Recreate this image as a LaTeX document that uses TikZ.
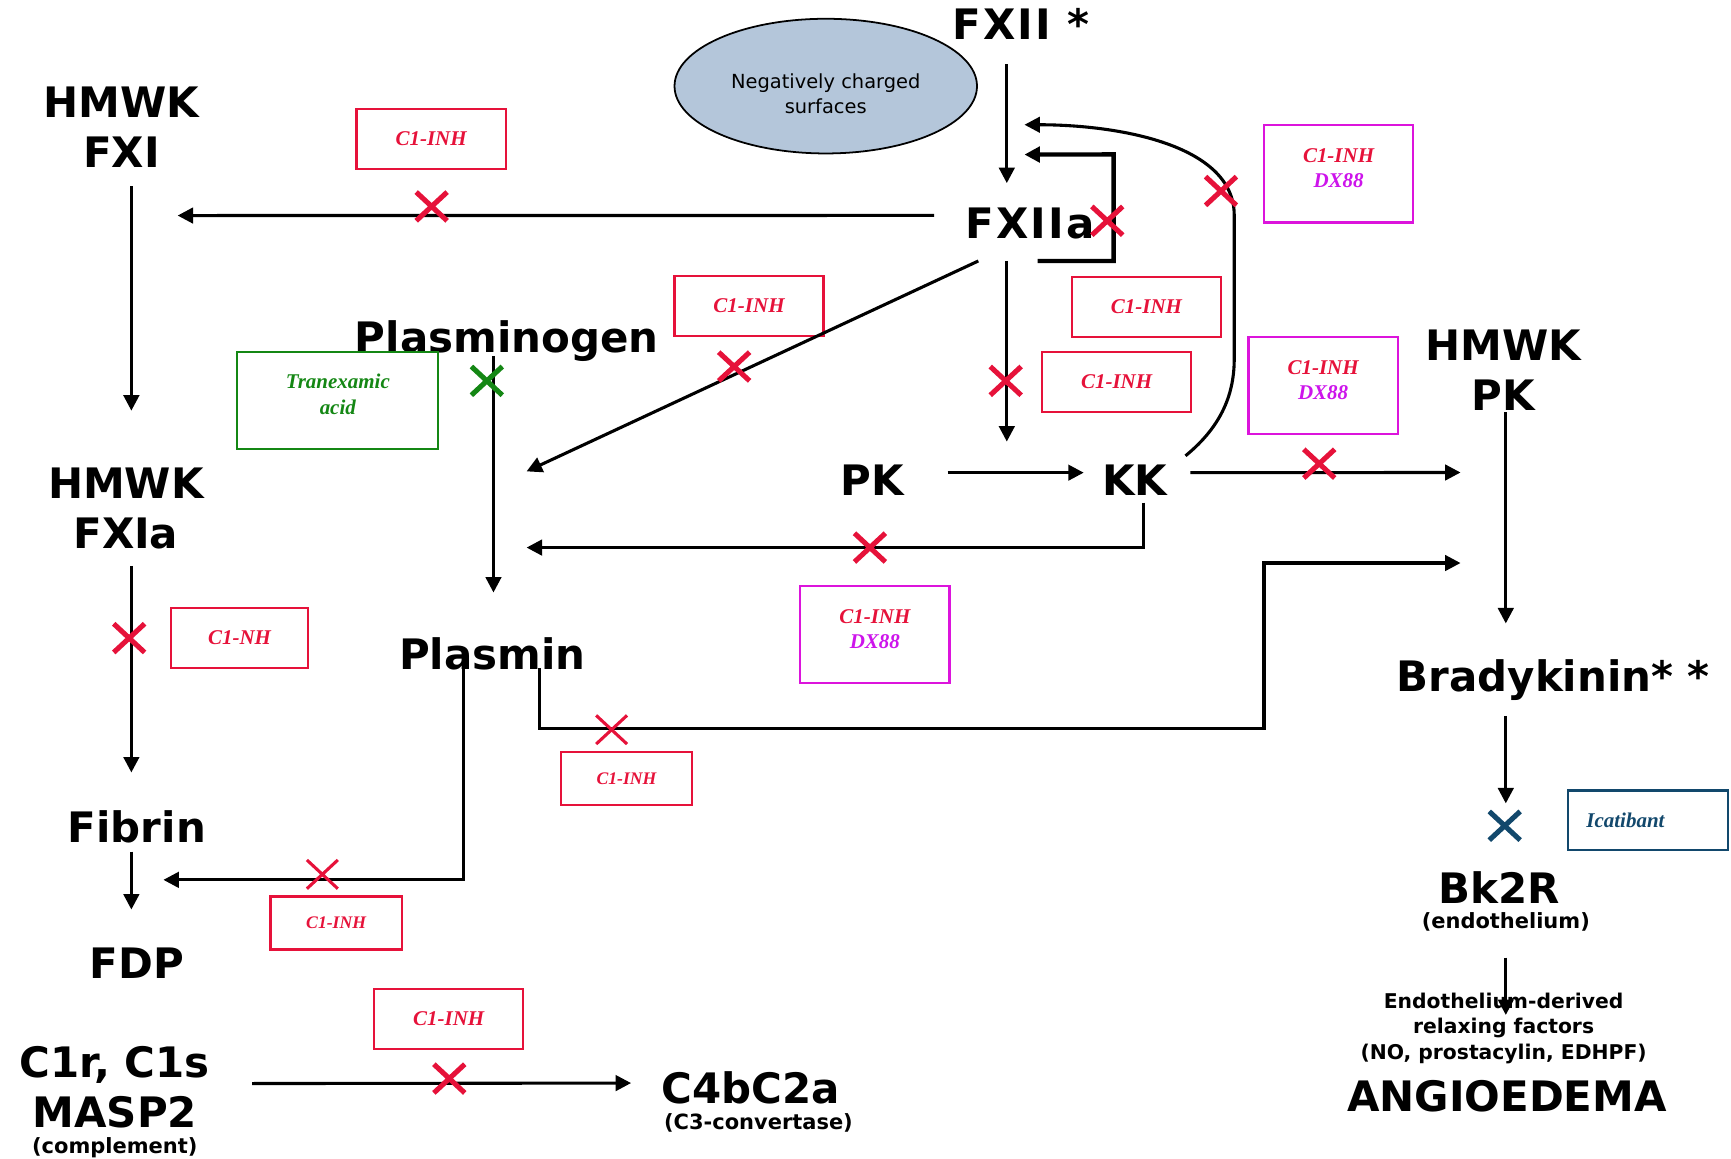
\documentclass[tikz,border=0pt]{standalone}
\usepackage{fontspec}
\newfontfamily\lblfam{DejaVu Sans}
\newfontfamily\drugfam{Liberation Serif}
\usetikzlibrary{arrows.meta,shapes.geometric}

\newcommand\lblfont{\lblfam\bfseries\fontsize{19}{23}\selectfont}
\newcommand\subfont{\lblfam\bfseries\fontsize{9.5}{11}\selectfont}
\newcommand\drugfont{\drugfam\bfseries\itshape\fontsize{9.5}{11.5}\selectfont}

\begin{document}
\begin{tikzpicture}[x=0.5pt, y=-0.5pt, >={Triangle[length=7pt,width=7pt]},
    lbl/.style={font=\lblfont, inner sep=0pt, text depth=0pt, align=center},
    spaced/.style={font=\lblfont\addfontfeature{LetterSpace=5}},
    sub/.style={font=\subfont, inner sep=0pt, text depth=0pt},
    drug/.style={draw=inhred, line width=1pt, text=inhred, font=\drugfont,
      align=center, minimum width=67.5pt, minimum height=27pt},
    dxbox/.style={draw=dxmag, minimum height=44pt, text depth=5pt},
    smalldrug/.style={minimum width=59.5pt, minimum height=24pt,
      font=\drugfam\bfseries\itshape\fontsize{8}{10}\selectfont},
    flow/.style={->, line width=1.4pt},
    stopx/.pic={\draw[pic actions] (-14,-13) -- (14,13) (-14,13) -- (14,-13);},
    redx/.style={draw=inhred, line width=2.3pt},
    thinx/.style={draw=inhred, line width=1.4pt}]
    \definecolor{inhred}{RGB}{230,18,58}
    \definecolor{dxmag}{RGB}{220,20,220}
    \definecolor{dxtext}{RGB}{205,20,235}
    \definecolor{tagreen}{RGB}{20,135,20}
    \definecolor{icablue}{RGB}{18,72,108}
    \definecolor{surfblue}{RGB}{180,198,218}

    \useasboundingbox (0,0) rectangle (1568,1049);

    % contact system
    \node[draw, ellipse, fill=surfblue, line width=0.8pt, minimum width=137pt,
      minimum height=61pt, inner sep=0pt, align=center, text height=24.5pt,
      font=\lblfam\fontsize{8.8}{11}\selectfont] (surfaces) at (748,78)
      {Negatively charged\\surfaces};
    \node[lbl, spaced, anchor=base] (fxii) at (925,36) {FXII *};
    \node[lbl, spaced, anchor=base] (fxiia) at (933,216) {FXIIa};
    \node[lbl, anchor=base] (pk) at (790,449) {PK};
    \node[lbl, anchor=base] (kk) at (1028,449) {KK};
    \node[lbl, anchor=north] (hmwkpk) at (1362,298) {HMWK\\PK};
    \node[lbl, anchor=base] (brady) at (1407,626) {Bradykinin* *};
    \node[lbl, anchor=base] (bk2r) at (1358,818) {Bk2R};
    \node[sub, anchor=base] (endoth) at (1364,841) {(endothelium)};
    \node[anchor=north, inner sep=0pt, align=center,
      font=\lblfam\bfseries\fontsize{9.2}{11.5}\selectfont] (edrf) at (1362,899)
      {Endothelium-derived\\relaxing factors\\(NO, prostacylin, EDHPF)};
    \node[lbl, anchor=base] (angio) at (1365,1007) {ANGIOEDEMA};

    % coagulation and fibrinolysis
    \node[lbl, anchor=north] (hmwkfxi) at (110,78) {HMWK\\FXI};
    \node[lbl, anchor=north] (hmwkfxia) at (114,423) {HMWK\\FXIa};
    \node[lbl, anchor=base] (fibrin) at (124,763) {Fibrin};
    \node[lbl, anchor=base] (fdp) at (124,886) {FDP};
    \node[lbl, anchor=base] (plasminogen) at (459,319) {Plasminogen};
    \node[lbl, anchor=base] (plasmin) at (446,606) {Plasmin};

    % complement
    \node[lbl, anchor=north] (c1rs) at (104,947) {C1r, C1s\\MASP2};
    \node[sub, anchor=base] (complement) at (104,1045) {(complement)};
    \node[lbl, anchor=base] (c4bc2a) at (680,1000) {C4bC2a};
    \node[sub, anchor=base] (c3conv) at (687,1023) {(C3-convertase)};

    % inhibitors
    \node[drug] (inhfxi) at (390.5,126) {C1-INH};
    \node[drug] (inhplg) at (678.5,277) {C1-INH};
    \node[drug] (inhfb) at (1038.5,278) {C1-INH};
    \node[drug] (inhpk) at (1011.5,346) {C1-INH};
    \node[drug, dxbox] (dxfb) at (1212.5,157.5) {C1-INH\\\textcolor{dxtext}{DX88}};
    \node[drug, dxbox] (dxbk) at (1198.5,349) {C1-INH\\\textcolor{dxtext}{DX88}};
    \node[drug, dxbox] (dxplm) at (792.5,575) {C1-INH\\\textcolor{dxtext}{DX88}};
    \node[drug, draw=tagreen, text=tagreen, minimum width=91pt, minimum height=44pt,
      text depth=6pt] (tranex) at (306,363) {Tranexamic\\acid};
    \node[drug, minimum width=62pt] (inhfxia) at (217,578) {C1-NH};
    \node[drug, smalldrug] (inhbk) at (567.5,705) {C1-INH};
    \node[drug, smalldrug] (inhfdp) at (304.5,836) {C1-INH};
    \node[drug] (inhc4) at (406.5,923) {C1-INH};
    \node[drug, draw=icablue, text=icablue, minimum width=72.5pt, text width=55.5pt,
      align=left] (icatibant) at (1492.5,743) {Icatibant};

    % points on other arrows
    \coordinate (fxiiconv) at (912,140);
    \coordinate (fxiiconv2) at (912,113);
    \coordinate (kkconv) at (912,428);
    \coordinate (plgconv) at (447,427);
    \coordinate (plgconv2) at (447,496);
    \coordinate (bkconv) at (1364,428);
    \coordinate (bkconv2) at (1364,510);
    \coordinate (fdpconv) at (119,797);
    \coordinate (plmbend) at (1145,660);

    % activation of FXII and feedback
    \draw[flow] ([yshift=-11pt]fxii.south -| fxiiconv) -- ([yshift=11pt]fxiia.north -| fxiiconv);
    \draw[flow, line width=2pt] ([xshift=3.5pt,yshift=-10pt]fxiia.south)
      -| ([xshift=8.5pt,yshift=24pt]fxiia.north east) -- ([xshift=8pt]fxiiconv);
    \draw[flow] ([xshift=8pt,yshift=4pt]kk.north east) .. controls (1108,385) and (1118,355) .. (1118,325)
      -- (1118,195) .. controls (1118,130) and (1010,113) .. ([xshift=8pt]fxiiconv2);

    % FXIIa targets
    \draw[flow] ([xshift=-14pt,yshift=3.5pt]fxiia.west) -- ([xshift=-10pt,yshift=-40pt]hmwkfxi.east);
    \draw[flow] ([xshift=6pt,yshift=-10pt]fxiia.south west) -- ([xshift=15pt]plgconv);
    \draw[flow] ([yshift=-10pt]fxiia.south -| kkconv) -- ([yshift=14pt]kkconv);

    % kallikrein
    \draw[flow] ([xshift=19.7pt,yshift=3.5pt]pk.east) -- ([xshift=-8.25pt,yshift=3.5pt]kk.west);
    \draw[flow] ([xshift=10.25pt,yshift=3.5pt]kk.east) -- ([xshift=-20.5pt]bkconv);
    \draw[flow] ([xshift=4pt,yshift=-3pt]kk.south) |- ([xshift=15pt]plgconv2);

    % plasmin
    \draw[flow] ([xshift=-6pt,yshift=-1.5pt]plasminogen.south) -- ([xshift=0.5pt,yshift=20pt]plasmin.north);
    \draw[flow] ([xshift=-13pt,yshift=0.5pt]plasmin.south) |- ([xshift=14.5pt]fdpconv);
    \draw[flow] ([xshift=21.5pt,yshift=0.5pt]plasmin.south) |- (plmbend) |- ([xshift=-20.5pt]bkconv2);

    % left column
    \draw[flow] ([xshift=4.5pt,yshift=-8pt]hmwkfxi.south) -- ([xshift=2.5pt,yshift=25.5pt]hmwkfxia.north);
    \draw[flow] ([xshift=2.5pt,yshift=-7.5pt]hmwkfxia.south) -- ([xshift=-2.5pt,yshift=17pt]fibrin.north);
    \draw[flow] ([xshift=-2.5pt,yshift=-4pt]fibrin.south) -- ([xshift=-2.5pt,yshift=17pt]fdp.north);

    % bradykinin
    \draw[flow] ([xshift=1pt,yshift=-0.5pt]hmwkpk.south) -- ([xshift=-21.5pt,yshift=16pt]brady.north);
    \draw[flow] ([xshift=-21.5pt,yshift=-11pt]brady.south) -- ([xshift=3pt,yshift=30.5pt]bk2r.north);
    \draw[flow] ([yshift=-13pt]endoth.south) -- ([xshift=-0.5pt,yshift=29.5pt]angio.north);

    % complement
    \draw[flow] ([xshift=19pt,yshift=1.5pt]c1rs.east) -- ([xshift=-13.6pt,yshift=2.25pt]c4bc2a.west);

    % blocks
    \pic[redx] at (391,187) {stopx};
    \pic[redx] at (665,332) {stopx};
    \pic[redx] at (911,345) {stopx};
    \pic[redx] at (1003,200) {stopx};
    \pic[redx] at (1106,173) {stopx};
    \pic[redx] at (1195,420) {stopx};
    \pic[redx] at (788,496) {stopx};
    \pic[redx] at (117,578) {stopx};
    \pic[redx] at (407,977) {stopx};
    \pic[thinx] at (554,661) {stopx};
    \pic[thinx] at (292,792) {stopx};
    \pic[draw=tagreen, line width=2.3pt] at (441,345) {stopx};
    \pic[draw=icablue, line width=2.3pt] at (1363,748) {stopx};
  \end{tikzpicture}
\end{document}
